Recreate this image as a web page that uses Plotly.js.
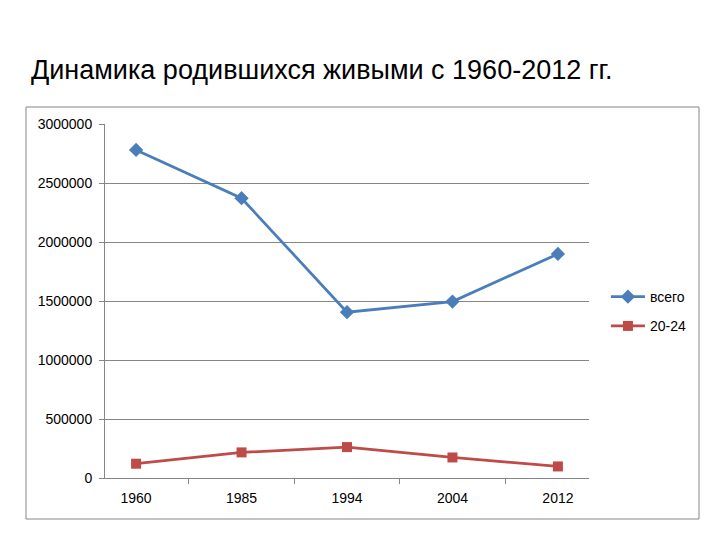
<!DOCTYPE html>
<html>
<head>
<meta charset="utf-8">
<script src="https://cdn.plot.ly/plotly-3.0.1.min.js"></script>
<style>html,body{margin:0;padding:0;background:#fff;}#chart{width:720px;height:540px;}</style>
</head>
<body>
<div id="chart"></div>
<script>
var years = ["1960", "1985", "1994", "2004", "2012"];
var total = [2780000, 2371000, 1405000, 1495000, 1899000];
var age2024 = [121000, 217000, 262000, 174000, 98000];
var seriesNames = ["всего", "20-24"];
var yTicks = [0, 500000, 1000000, 1500000, 2000000, 2500000, 3000000];

var traces = [
  {x: years, y: total, name: seriesNames[0], type: "scatter", mode: "lines+markers", legendgroup: "a",
   line: {color: "#4A7EBB", width: 2.75}, marker: {symbol: "diamond", size: 11, color: "#4A7EBB"}},
  {x: years, y: age2024, name: seriesNames[1], type: "scatter", mode: "lines+markers", legendgroup: "b",
   line: {color: "#BE4B48", width: 2.75}, marker: {symbol: "square", size: 10, color: "#BE4B48"}}
];

var layout = {
  width: 720, height: 540,
  margin: {l: 105, r: 131, t: 124, b: 62},
  paper_bgcolor: "#fff", plot_bgcolor: "#fff",
  font: {family: "Liberation Sans, sans-serif", color: "#000", size: 14},
  annotations: [{
    text: "Динамика родившихся живыми с 1960-2012 гг.",
    xref: "paper", yref: "paper", x: (29 - 105) / 484, y: (478 - 70) / 354,
    xanchor: "left", yanchor: "middle", showarrow: false,
    font: {family: "Liberation Sans, sans-serif", size: 27, color: "#000"}
  }],
  xaxis: {
    type: "category", tickson: "boundaries", ticks: "outside", ticklen: 5, tickcolor: "#868686",
    showline: true, linecolor: "#868686", linewidth: 1, showgrid: false,
    tickfont: {size: 14}, ticklabelstandoff: 7, fixedrange: true
  },
  yaxis: {
    range: [0, 3000000], tickvals: yTicks, ticktext: yTicks.map(String),
    ticks: "outside", ticklen: 5, tickcolor: "#868686",
    showline: true, linecolor: "#868686", linewidth: 1,
    showgrid: true, gridcolor: "#868686", gridwidth: 1, zeroline: false,
    tickfont: {size: 14}, ticklabelstandoff: 4, fixedrange: true
  },
  legend: {x: 1.035, y: 0.47, xanchor: "left", yanchor: "middle", font: {size: 14},
           bgcolor: "rgba(0,0,0,0)", itemwidth: 34, traceorder: "grouped", tracegroupgap: 8},
  shapes: [{type: "rect", xref: "paper", yref: "paper",
            x0: (26 - 105) / 484, x1: (699 - 105) / 484, y0: (478 - 519) / 354, y1: (478 - 107) / 354,
            line: {color: "#868686", width: 1}}],
  showlegend: true
};

Plotly.newPlot("chart", traces, layout, {displayModeBar: false, staticPlot: true});
</script>
</body>
</html>
